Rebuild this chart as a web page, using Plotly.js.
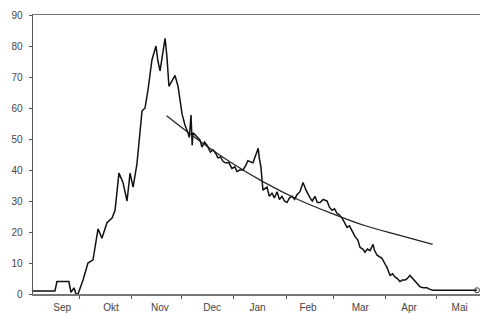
<!DOCTYPE html>
<html>
<head>
<meta charset="utf-8">
<script src="https://cdn.plot.ly/plotly-3.0.1.min.js"></script>
<style>html,body{margin:0;padding:0;background:#fff}#chart{width:480px;height:314px}</style>
</head>
<body>
<div id="chart"></div>
<script>
// days counted from 1 September
const days = [2.7, 15.7, 16.9, 24, 25.2, 27, 28.2, 29.4, 32.4, 35.3, 38.3, 41.3, 43.6, 46.6, 49.6, 51.4, 53.7, 56.1, 58.5, 60.3, 62.1, 64.4, 67.4, 69.2, 71, 73.3, 75.7, 76.9, 78.1, 79.9, 81.1, 82.2, 83.4, 87, 88.8, 91.2, 92.9, 94.7, 95.5, 96.5, 97.2, 97.7, 100.1, 101.8, 103, 104.5, 106, 108, 109.5, 111, 112.5, 114, 115.5, 117, 119, 120.8, 122.5, 123.8, 125.5, 127.4, 129, 130.3, 133.3, 136.4, 137, 138, 139.2, 141.6, 143, 144.6, 146, 147.6, 149, 150.5, 152, 153.5, 155, 156.5, 158, 159.4, 161.2, 163, 164.8, 166, 167.2, 168.5, 170.1, 171.5, 173.1, 175, 177.3, 178.7, 180.2, 181.7, 183.2, 184.7, 186.2, 187.7, 189.1, 190.6, 192.1, 193.9, 195.5, 196.9, 198.5, 199.8, 201.3, 202.8, 204.6, 205.5, 207, 208.5, 209.9, 211.4, 212.9, 214.7, 216.2, 217.6, 219, 220.6, 222, 223.6, 225, 226.5, 228, 229.5, 231, 232.5, 234.5, 236.6, 238.4, 240.2, 266.3];
const values = [1, 1, 4, 4, 0.5, 2, 0, 0, 4.5, 10, 11, 21, 18, 23, 24.5, 27, 39, 36, 30, 39, 34.5, 42, 59, 60, 66, 75.5, 80, 75, 72, 78, 82.5, 76.5, 67, 70.5, 67, 58, 54.5, 52, 50.5, 57.7, 48, 52, 50.6, 49.7, 47.4, 49, 48, 45.8, 46.5, 45.5, 43.9, 44.2, 42.8, 42.3, 42.3, 40.5, 41, 39.5, 40, 40, 41.5, 43, 42.3, 47, 44, 41, 33.5, 34.5, 31.5, 32.5, 31, 33, 30.5, 31.5, 30, 29.5, 31, 31.5, 30.5, 32, 33, 36, 33.5, 32, 31, 30, 31.5, 29.5, 29.5, 30.5, 30, 28, 27, 27.5, 26, 25.5, 24.5, 23, 21.5, 22, 20.5, 18.5, 17.5, 15, 14.5, 13.5, 14.5, 14, 16, 14, 12.5, 12, 11.5, 10, 8.5, 6, 6.5, 5.5, 5, 4, 4.5, 4.5, 5, 6, 5, 4, 3, 2.3, 2, 2, 1.5, 1.2, 1.2];

// fitted trend line
const trendDays = [82, 100, 120, 140, 160, 180, 200, 220, 240];
const trendValues = [57.5, 50, 42.5, 36, 30.5, 26, 22, 19, 16];

const monthStarts = [30, 61, 91, 122, 153, 181, 212, 242];
const labelDays = [20, 49, 78, 109, 136, 166, 197, 226, 256];
const monthLabels = ["Sep", "Okt", "Nov", "Dec", "Jan", "Feb", "Mar", "Apr", "Mai"];
const yTicks = [0, 10, 20, 30, 40, 50, 60, 70, 80, 90];

const traces = [
  {x: days, y: values, type: 'scatter', mode: 'lines',
   line: {color: '#111', width: 1.5}, hoverinfo: 'skip', showlegend: false},
  {x: trendDays, y: trendValues, type: 'scatter', mode: 'lines',
   line: {color: '#222', width: 1.2, shape: 'spline'}, hoverinfo: 'skip', showlegend: false},
  {x: [days[days.length - 1]], y: [values[values.length - 1]], type: 'scatter', mode: 'markers',
   marker: {symbol: 'circle-open', size: 5, color: '#333', line: {width: 1}}, showlegend: false}
];

const layout = {
  width: 480, height: 314,
  margin: {l: 33, r: 0, t: 15, b: 20, pad: 0},
  paper_bgcolor: '#fff', plot_bgcolor: '#fff',
  font: {family: 'Liberation Sans, Arial, sans-serif', size: 10, color: '#444'},
  xaxis: {
    range: [2.67, 268.1], showgrid: false, zeroline: false,
    showline: true, linecolor: '#777', linewidth: 1.5, mirror: true,
    tickmode: 'array', tickvals: labelDays, ticktext: monthLabels, ticks: '',
    ticklabelstandoff: 3,
    minor: {tickmode: 'array', tickvals: monthStarts, ticks: 'outside', ticklen: 3, tickwidth: 1, tickcolor: '#555'}
  },
  yaxis: {
    range: [0, 90], showgrid: false, zeroline: false,
    showline: true, linecolor: '#555', linewidth: 1.5,
    tickmode: 'array', tickvals: yTicks, ticks: 'outside', ticklen: 3, tickwidth: 1, tickcolor: '#555',
    ticklabelstandoff: 4
  }
};

Plotly.newPlot('chart', traces, layout, {displayModeBar: false, staticPlot: true});
</script>
</body>
</html>
